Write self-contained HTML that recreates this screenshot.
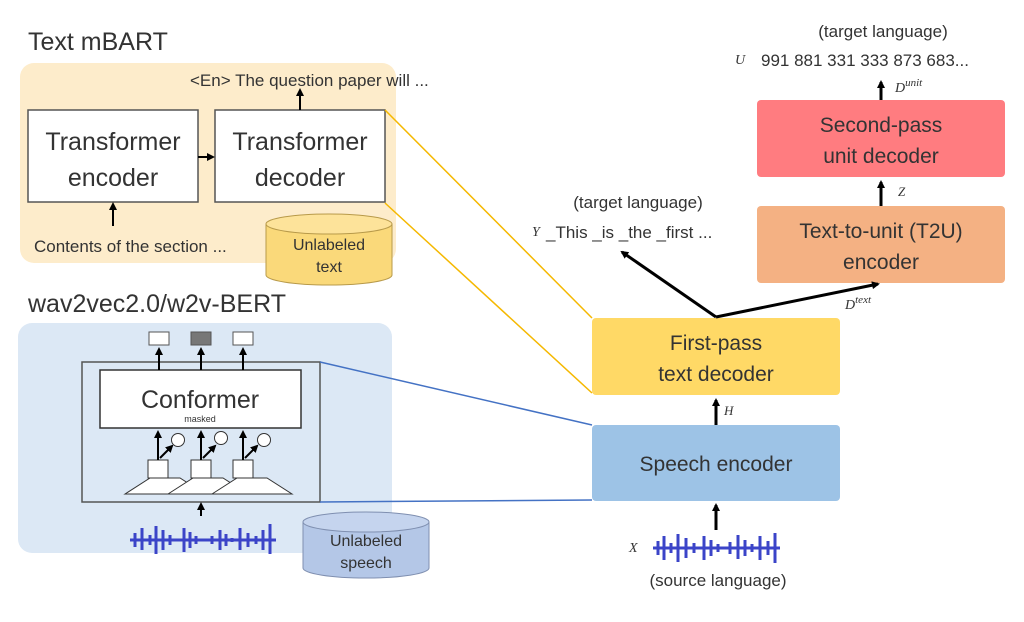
<!DOCTYPE html>
<html><head><meta charset="utf-8"><style>
body{margin:0;background:#fff;}
svg text{font-family:"Liberation Sans",sans-serif;fill:#333;}
.it{font-family:"Liberation Serif",serif;font-style:italic;}
</style></head><body>
<svg width="1024" height="617" viewBox="0 0 1024 617" xmlns="http://www.w3.org/2000/svg">
<defs>
<marker id="ah" markerWidth="8" markerHeight="8" refX="6" refY="4" orient="auto" markerUnits="userSpaceOnUse"><path d="M0,0 L8,4 L0,8 z" fill="#000"/></marker>
</defs>
<!-- mBART -->
<text x="28" y="50" font-size="25">Text mBART</text>
<rect x="20" y="63" width="376" height="200" rx="14" fill="#fdeccb"/>
<text x="190" y="86" font-size="17">&lt;En&gt; The question paper will ...</text>
<rect x="28" y="110" width="170" height="92" fill="#fff" stroke="#555" stroke-width="1.5"/>
<text x="113" y="150" font-size="25" text-anchor="middle">Transformer</text>
<text x="113" y="186" font-size="25" text-anchor="middle">encoder</text>
<rect x="215" y="110" width="170" height="92" fill="#fff" stroke="#555" stroke-width="1.5"/>
<text x="300" y="150" font-size="25" text-anchor="middle">Transformer</text>
<text x="300" y="186" font-size="25" text-anchor="middle">decoder</text>
<line x1="198" y1="157" x2="213" y2="157" stroke="#000" stroke-width="2" marker-end="url(#ah)"/>
<line x1="300" y1="110" x2="300" y2="90" stroke="#000" stroke-width="2" marker-end="url(#ah)"/>
<line x1="113" y1="226" x2="113" y2="204" stroke="#000" stroke-width="2" marker-end="url(#ah)"/>
<text x="34" y="252" font-size="17">Contents of the section ...</text>
<path d="M266,224 L266,275 A63,10 0 0 0 392,275 L392,224" fill="#fad97a" stroke="#b89a4a"/>
<ellipse cx="329" cy="224" rx="63" ry="10" fill="#fde39a" stroke="#b89a4a"/>
<text x="329" y="250" font-size="16" text-anchor="middle">Unlabeled</text>
<text x="329" y="272" font-size="16" text-anchor="middle">text</text>
<!-- wav2vec -->
<text x="28" y="312" font-size="25">wav2vec2.0/w2v-BERT</text>
<rect x="18" y="323" width="374" height="230" rx="14" fill="#dce8f5"/>
<rect x="82" y="362" width="238" height="140" fill="#dce8f5" stroke="#555" stroke-width="1.5"/>
<rect x="100" y="370" width="201" height="58" fill="#fff" stroke="#333" stroke-width="1.5"/>
<text x="200" y="408" font-size="25" text-anchor="middle">Conformer</text>
<text x="200" y="422" font-size="9" text-anchor="middle">masked</text>
<rect x="149" y="332" width="20" height="13" fill="#fff" stroke="#555"/>
<rect x="191" y="332" width="20" height="13" fill="#777" stroke="#555"/>
<rect x="233" y="332" width="20" height="13" fill="#fff" stroke="#555"/>
<g stroke="#000" stroke-width="2">
<line x1="159" y1="370" x2="159" y2="349" marker-end="url(#ah)"/>
<line x1="201" y1="370" x2="201" y2="349" marker-end="url(#ah)"/>
<line x1="243" y1="370" x2="243" y2="349" marker-end="url(#ah)"/>
</g>
<g>
<polygon points="125,494 150,478 180,478 205,494" fill="#fff" stroke="#333"/>
<polygon points="168,494 193,478 223,478 248,494" fill="#fff" stroke="#333"/>
<polygon points="212,494 237,478 267,478 292,494" fill="#fff" stroke="#333"/>
<rect x="148" y="460" width="20" height="18" fill="#fff" stroke="#333"/>
<rect x="191" y="460" width="20" height="18" fill="#fff" stroke="#333"/>
<rect x="233" y="460" width="20" height="18" fill="#fff" stroke="#333"/>
<g stroke="#000" stroke-width="2">
<line x1="158" y1="460" x2="158" y2="432" marker-end="url(#ah)"/>
<line x1="201" y1="460" x2="201" y2="432" marker-end="url(#ah)"/>
<line x1="243" y1="460" x2="243" y2="432" marker-end="url(#ah)"/>
<line x1="160" y1="458" x2="172" y2="446" marker-end="url(#ah)"/>
<line x1="203" y1="458" x2="215" y2="446" marker-end="url(#ah)"/>
<line x1="245" y1="458" x2="257" y2="446" marker-end="url(#ah)"/>
</g>
<circle cx="178" cy="440" r="6.5" fill="#fff" stroke="#333"/>
<circle cx="221" cy="438" r="6.5" fill="#fff" stroke="#333"/>
<circle cx="264" cy="440" r="6.5" fill="#fff" stroke="#333"/>
</g>
<line x1="201" y1="516" x2="201" y2="504" stroke="#000" stroke-width="2" marker-end="url(#ah)"/>
<g stroke="#3b44c8" stroke-width="3">
<path d="M130,540 L276,540"/>
<path d="M135,533v14M142,528v22M150,535v10M156,526v28M163,530v20M170,535v10M184,528v24M190,532v16M196,536v8M212,536v8M220,530v20M226,534v12M232,538v4M240,528v22M248,533v14M256,536v8M263,530v20M270,524v30"/>
</g>
<path d="M303,522 L303,568 A63,10 0 0 0 429,568 L429,522" fill="#b4c7e7" stroke="#7f8fb0"/>
<ellipse cx="366" cy="522" rx="63" ry="10" fill="#c5d4ee" stroke="#7f8fb0"/>
<text x="366" y="546" font-size="16" text-anchor="middle">Unlabeled</text>
<text x="366" y="568" font-size="16" text-anchor="middle">speech</text>
<!-- connector lines -->
<g stroke="#f5b800" stroke-width="1.5">
<line x1="385" y1="110" x2="592" y2="318"/>
<line x1="385" y1="203" x2="592" y2="393"/>
</g>
<g stroke="#4472c4" stroke-width="1.5">
<line x1="320" y1="362" x2="592" y2="425"/>
<line x1="320" y1="502" x2="592" y2="500"/>
</g>
<!-- right side -->
<rect x="592" y="425" width="248" height="76" rx="4" fill="#9dc3e6"/>
<text x="716" y="471" font-size="21" text-anchor="middle">Speech encoder</text>
<rect x="592" y="318" width="248" height="77" rx="4" fill="#ffd966"/>
<text x="716" y="350" font-size="21" text-anchor="middle">First-pass</text>
<text x="716" y="381" font-size="21" text-anchor="middle">text decoder</text>
<rect x="757" y="206" width="248" height="77" rx="4" fill="#f4b183"/>
<text x="881" y="238" font-size="21" text-anchor="middle">Text-to-unit (T2U)</text>
<text x="881" y="269" font-size="21" text-anchor="middle">encoder</text>
<rect x="757" y="100" width="248" height="77" rx="4" fill="#ff7c80"/>
<text x="881" y="132" font-size="21" text-anchor="middle">Second-pass</text>
<text x="881" y="163" font-size="21" text-anchor="middle">unit decoder</text>
<g stroke="#000" stroke-width="3">
<line x1="716" y1="425" x2="716" y2="400" marker-end="url(#ah)"/>
<line x1="716" y1="530" x2="716" y2="505" marker-end="url(#ah)"/>
<line x1="881" y1="206" x2="881" y2="182" marker-end="url(#ah)"/>
<line x1="881" y1="100" x2="881" y2="82" marker-end="url(#ah)"/>
<line x1="716" y1="317" x2="622" y2="252" marker-end="url(#ah)"/>
<line x1="716" y1="317" x2="878" y2="284" marker-end="url(#ah)"/>
</g>
<text x="724" y="415" font-size="13" class="it">H</text>
<text x="898" y="196" font-size="13" class="it">Z</text>
<text x="845" y="309" font-size="14" class="it">D<tspan font-size="11" dy="-6">text</tspan></text>
<text x="895" y="92" font-size="14" class="it">D<tspan font-size="11" dy="-6">unit</tspan></text>
<text x="638" y="208" font-size="17" text-anchor="middle">(target language)</text>
<text x="532" y="236" font-size="14" class="it">Y</text>
<text x="546" y="238" font-size="17">_This _is _the _first ...</text>
<text x="883" y="37" font-size="17" text-anchor="middle">(target language)</text>
<text x="735" y="64" font-size="14" class="it">U</text>
<text x="761" y="66" font-size="17">991 881 331 333 873 683...</text>
<g stroke="#3b44c8" stroke-width="3">
<path d="M653,548 L780,548"/>
<path d="M658,541v14M664,536v24M671,543v10M678,534v28M686,538v20M694,543v10M704,536v24M711,540v16M718,544v8M730,542v12M738,535v24M745,540v16M752,544v8M760,536v24M768,541v14M775,533v30"/>
</g>
<text x="629" y="552" font-size="14" class="it">X</text>
<text x="718" y="586" font-size="17" text-anchor="middle">(source language)</text>
</svg>
</body></html>
